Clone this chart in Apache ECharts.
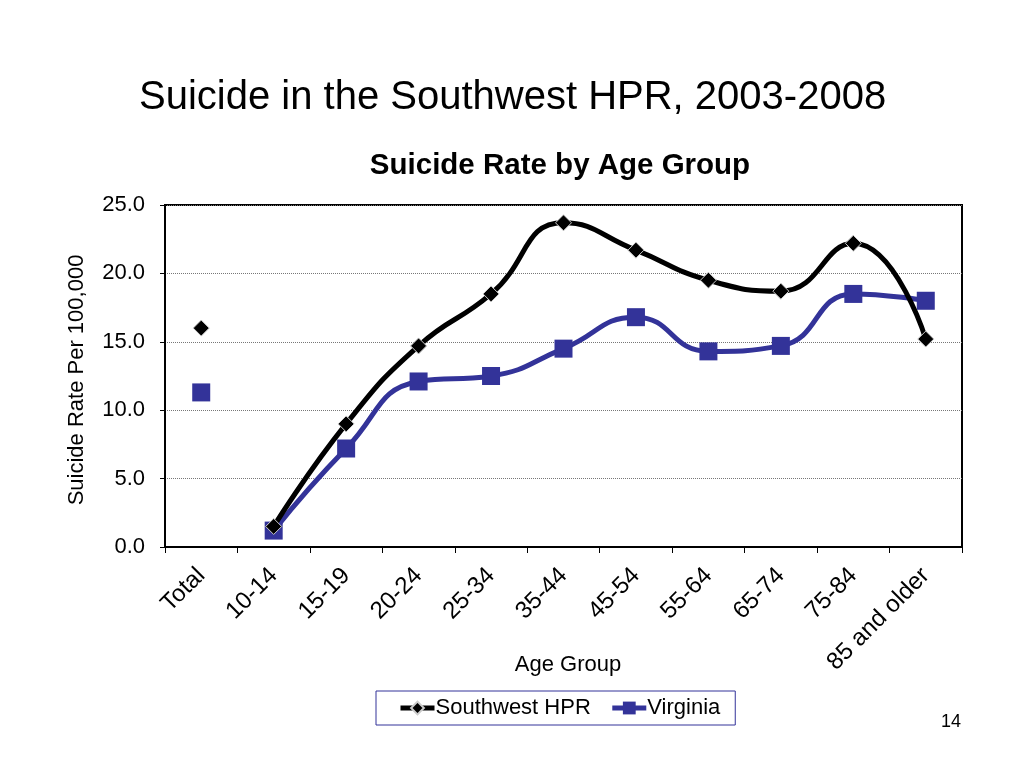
<!DOCTYPE html>
<html><head><meta charset="utf-8">
<script src="https://cdn.jsdelivr.net/npm/echarts@6/dist/echarts.min.js"></script>
<style>html,body{margin:0;padding:0;background:#fff}#c{width:1024px;height:768px}</style>
</head><body><div id="c"></div>
<script>
const categories = ['Total','10-14','15-19','20-24','25-34','35-44','45-54','55-64','65-74','75-84','85 and older'];
const southwestHPR = [16.0, 1.5, 9.0, 14.7, 18.5, 23.7, 21.7, 19.5, 18.7, 22.2, 15.2];
const virginia = [11.3, 1.2, 7.2, 12.1, 12.5, 14.5, 16.8, 14.3, 14.7, 18.5, 18.0];
const seriesNames = ['Southwest HPR', 'Virginia'];
const xAxisTitle = 'Age Group';

const lineData = arr => arr.map((v, i) => i === 0 ? '-' : v);
const totalData = arr => arr.map((v, i) => i === 0 ? v : '-');
const font = '"Liberation Sans", Arial, sans-serif';
const navy = '#333399';

const chart = echarts.init(document.getElementById('c'));
chart.setOption({
  backgroundColor: '#fff',
  animation: false,
  title: [
    { text: 'Suicide in the Southwest HPR, 2003-2008', left: 134, top: 73,
      textStyle: { fontFamily: font, fontSize: 40, fontWeight: 'normal', color: '#000' } },
    { text: 'Suicide Rate by Age Group', left: 555, top: 146, textAlign: 'center',
      textStyle: { fontFamily: font, fontSize: 29.5, fontWeight: 'bold', color: '#000' } },
    { text: xAxisTitle, left: 563, top: 649, textAlign: 'center',
      textStyle: { fontFamily: font, fontSize: 22, fontWeight: 'normal', color: '#000' } },
    { text: '14', left: 936, top: 708,
      textStyle: { fontFamily: font, fontSize: 18, fontWeight: 'normal', color: '#000' } }
  ],
  legend: {
    data: seriesNames,
    left: 376, top: 691,
    padding: [6, 15, 6, 22],
    itemGap: 19,
    itemWidth: 34, itemHeight: 16,
    borderColor: navy, borderWidth: 1,
    lineStyle: { width: 5 },
    textStyle: { fontFamily: font, fontSize: 22, color: '#000', padding: [0, 0, 0, -4] }
  },
  grid: { left: 165, right: 62, top: 205, bottom: 221, show: true, borderColor: '#000', borderWidth: 2, backgroundColor: 'transparent' },
  xAxis: {
    type: 'category', data: categories, boundaryGap: true,
    axisLine: { lineStyle: { color: '#000', width: 2 } },
    axisTick: { show: true, alignWithLabel: false, length: 6, lineStyle: { color: '#000', width: 1 } },
    axisLabel: { rotate: 45, fontFamily: font, fontSize: 24, color: '#000', margin: 25, interval: 0 },
    splitLine: { show: false }
  },
  yAxis: {
    type: 'value', min: 0, max: 25, interval: 5,
    name: 'Suicide Rate Per 100,000', nameLocation: 'middle', nameGap: 77,
    nameTextStyle: { fontFamily: font, fontSize: 22, color: '#000', padding: [0, 0, 0, -8] },
    axisLine: { show: true, lineStyle: { color: '#000', width: 2 } },
    axisTick: { show: true, length: 5, lineStyle: { color: '#000' } },
    axisLabel: { formatter: v => v.toFixed(1), fontFamily: font, fontSize: 22, color: '#000', margin: 20 },
    splitLine: { show: true, lineStyle: { color: '#777', type: 'dotted', width: 1 } }
  },
  series: [
    { name: seriesNames[0], type: 'line', smooth: 0.5, data: lineData(southwestHPR),
      lineStyle: { color: '#000', width: 5 },
      itemStyle: { color: '#000', borderColor: '#ccc', borderWidth: 1 },
      symbol: 'diamond', symbolSize: 16, z: 3 },
    { name: seriesNames[1], type: 'line', smooth: 0.5, data: lineData(virginia),
      lineStyle: { color: navy, width: 5 },
      itemStyle: { color: navy },
      symbol: 'rect', symbolSize: 18, z: 2 },
    { name: seriesNames[0] + ' total', type: 'scatter', data: totalData(southwestHPR),
      symbol: 'diamond', symbolSize: 16, itemStyle: { color: '#000', opacity: 1, borderColor: '#ccc', borderWidth: 1 } },
    { name: seriesNames[1] + ' total', type: 'scatter', data: totalData(virginia),
      symbol: 'rect', symbolSize: 18, itemStyle: { color: navy, opacity: 1 } }
  ]
});
</script></body></html>
